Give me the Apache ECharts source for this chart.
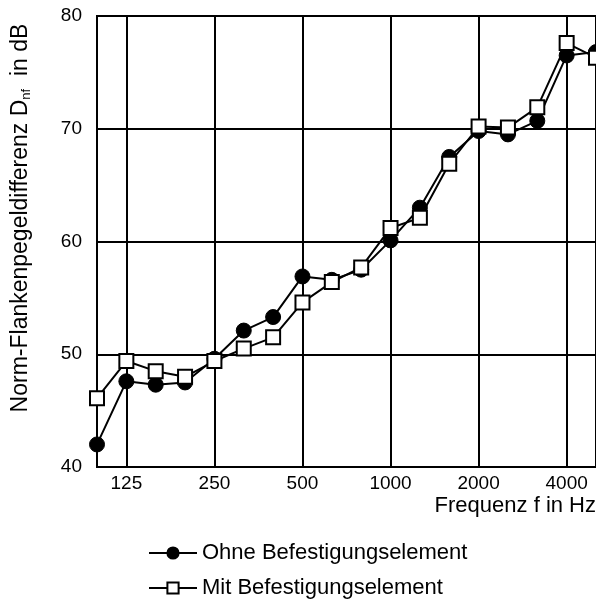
<!DOCTYPE html>
<html>
<head>
<meta charset="utf-8">
<script src="https://cdn.jsdelivr.net/npm/echarts@6/dist/echarts.min.js"></script>
<style>html,body{margin:0;padding:0;background:#fff}#c{width:596px;height:601px}</style>
</head>
<body>
<div id="c"></div>
<script>
var freqs = ['100','125','160','200','250','315','400','500','630','800','1000','1250','1600','2000','2500','3150','4000','5000'];
var ohne = [42.0,47.6,47.3,47.5,49.6,52.1,53.3,56.9,56.6,57.5,60.1,63.0,67.5,69.8,69.5,70.7,76.5,76.8];
var mit  = [46.1,49.4,48.5,48.0,49.4,50.5,51.5,54.6,56.4,57.7,61.2,62.1,66.9,70.2,70.1,71.9,77.6,76.3];
var yTicks = [40,50,60,70,80];
var labelled = ['125','250','500','1000','2000','4000'];
var seriesNames = ['Ohne Befestigungselement','Mit Befestigungselement'];

var F = 'Arial, "Liberation Sans", sans-serif';
var legendBase = {orient:'vertical', left:143, itemWidth:48, itemHeight:14,
  textStyle:{color:'#000', fontSize:22, fontFamily:F}};
var chart = echarts.init(document.getElementById('c'), null, {renderer:'canvas'});
chart.setOption({
  animation:false,
  backgroundColor:'#fff',
  grid:{left:97, right:0, top:16, bottom:134, show:true, borderColor:'#000', borderWidth:2, backgroundColor:'transparent'},
  xAxis:{
    type:'category', data:freqs, boundaryGap:false,
    axisLine:{show:false}, axisTick:{show:false},
    axisLabel:{interval:function(i,v){return labelled.indexOf(v)>=0;}, color:'#000', fontSize:19, fontFamily:F, margin:7},
    splitLine:{show:true, interval:function(i,v){return labelled.indexOf(v)>=0;}, lineStyle:{color:'#000', width:2}}
  },
  yAxis:{
    type:'value', min:yTicks[0], max:yTicks[yTicks.length-1], interval:10,
    axisLine:{show:false}, axisTick:{show:false},
    axisLabel:{color:'#000', fontSize:19, fontFamily:F, margin:15},
    splitLine:{show:true, lineStyle:{color:'#000', width:2}}
  },
  legend:[
    Object.assign({}, legendBase, {top:537, data:[seriesNames[0]]}),
    Object.assign({}, legendBase, {top:572, data:[seriesNames[1]]})
  ],
  graphic:[
    {type:'text', x:596, y:506, style:{text:'Frequenz f in Hz', fill:'#000', font:'22px '+F, align:'right', verticalAlign:'middle'}},
    {type:'text', x:21, y:218, rotation:Math.PI/2, style:{
      text:'{a|Norm-Flankenpegeldifferenz D}{s|nf}{a|  in dB}', align:'center', verticalAlign:'middle',
      rich:{a:{fontSize:23, fontFamily:F, color:'#000'}, s:{fontSize:13, fontFamily:F, color:'#000', verticalAlign:'bottom', padding:[8,0,0,0]}}
    }}
  ],
  series:[
    {name:seriesNames[0], type:'line', data:ohne, symbol:'circle', symbolSize:15, clip:false,
     lineStyle:{color:'#000', width:2}, itemStyle:{color:'#000', borderColor:'#000', borderWidth:1}, z:3},
    {name:seriesNames[1], type:'line', data:mit, symbol:'rect', symbolSize:14, clip:false,
     lineStyle:{color:'#000', width:2}, itemStyle:{color:'#fff', borderColor:'#000', borderWidth:2}, z:4}
  ]
});
</script>
</body>
</html>
